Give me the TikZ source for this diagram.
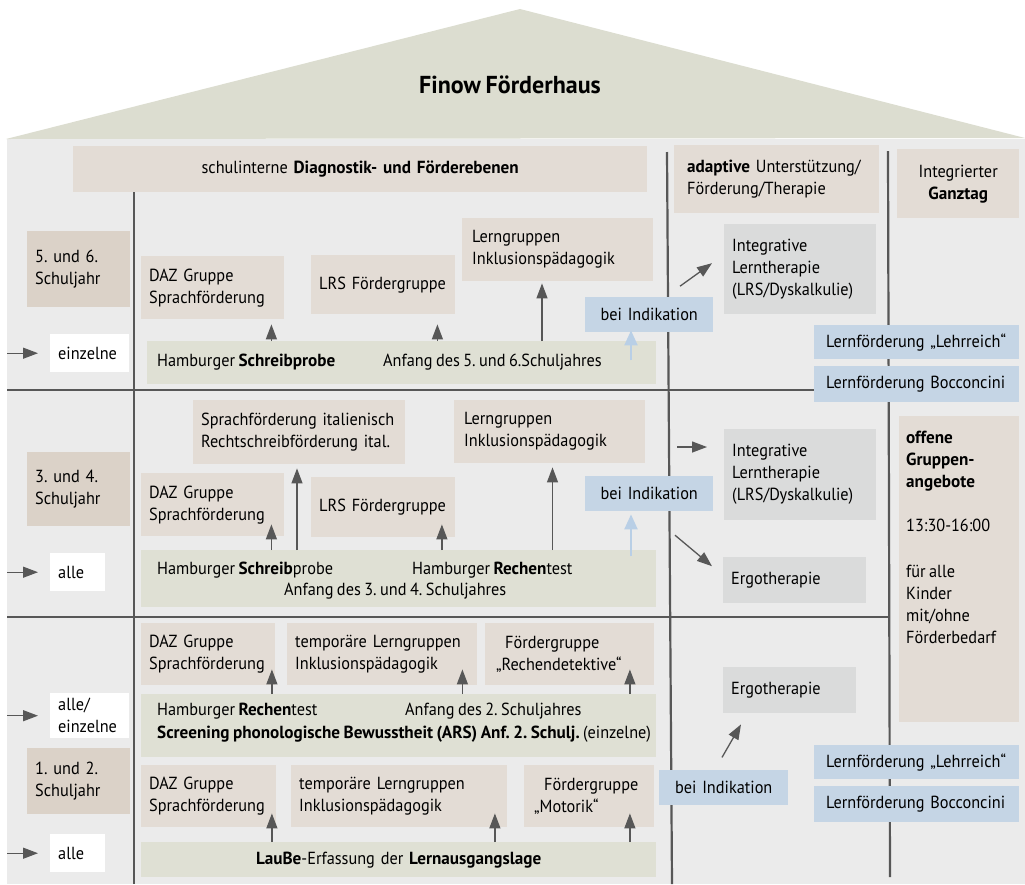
\documentclass[tikz,border=0pt]{standalone}
\usepackage{fontspec}
\setmainfont{PT Sans}[FakeStretch=0.93, WordSpace=0.8, BoldFeatures={FakeStretch=0.98}]
\frenchspacing
\usetikzlibrary{arrows.meta,calc}
\definecolor{roofc}{HTML}{DCDDD0}
\definecolor{bodyc}{HTML}{EBEBEB}
\definecolor{tanc}{HTML}{E3DCD5}
\definecolor{yearc}{HTML}{DBD2C8}
\definecolor{grnc}{HTML}{DFE0D4}
\definecolor{gryc}{HTML}{DADBDB}
\definecolor{bluc}{HTML}{C5D5E5}
\definecolor{linec}{HTML}{575757}
\definecolor{larrc}{HTML}{B9CFE6}
\tikzset{
  base/.style={rectangle, anchor=north west, inner xsep=8pt, inner ysep=0pt, align=left},
  tanbox/.style={base, fill=tanc},
  yearbox/.style={base, fill=yearc},
  grnbox/.style={base, fill=grnc},
  grybox/.style={base, fill=gryc},
  blubox/.style={base, fill=bluc},
  whitebox/.style={base, fill=white},
  sz/.style 2 args={minimum width=#1pt, minimum height=#2pt, text width=#1pt-16pt},
  wh/.style 2 args={minimum width=#1pt, minimum height=#2pt},
  txt/.style={inner sep=0pt, align=left},
  sep/.style={draw=linec, line width=2.2pt},
  arr/.style={draw=linec, line width=1.3pt, -{Triangle[length=15pt,width=11pt]}},
  larr/.style={draw=larrc, line width=2.2pt, -{Triangle[length=15pt,width=13pt]}},
}
\begin{document}
\begin{tikzpicture}[x=1pt, y=-1pt, font=\fontsize{17.5}{22}\selectfont]
\useasboundingbox (0,0) rectangle (1025,884);
% house
\node[fill=bodyc, anchor=north west, minimum width=1018pt, minimum height=745pt, inner sep=0pt] (body) at (7,139) {};
\fill[roofc] (6,139) -- (520,9) -- (1025,138) -- cycle;
\node[font=\bfseries\fontsize{24.5}{28}\selectfont] (title) at (510,85) {Finow Förderhaus};
% separators
\draw[sep] (134,192) -- (134,884);
\draw[sep] (667,152) -- (672,884);
\draw[sep] (888,151) -- (890,877);
\draw[sep] (7,390) -- (888,390);
\draw[sep] (7,617) -- (888,617);
% headers
\node[tanbox, sz={574}{46}, align=center] (hdr) at (73,146) {schulinterne \textbf{Diagnostik- und Förderebenen}};
\node[tanbox, sz={205}{68}] (adp) at (674,145) {\hspace*{5pt}\textbf{adaptive} Unterstützung/\\\hspace*{5pt}Förderung/Therapie};
\node[tanbox, sz={122}{69}, align=center] (gt) at (897,149) {Integrierter\\\textbf{Ganztag}};
% year boxes
\node[yearbox, sz={103}{76}] (y56) at (27,231) {5. und 6.\\Schuljahr};
\node[yearbox, sz={103}{74}] (y34) at (27,452) {3. und 4.\\Schuljahr};
\node[yearbox, sz={103}{66}] (y12) at (27,748) {1. und 2.\\Schuljahr};
% white boxes
\node[whitebox, sz={79}{38}] (w56) at (50,334) {einzelne};
\node[whitebox, sz={55}{38}] (w34) at (50,553) {alle};
\node[whitebox, sz={79}{45}] (w2) at (50,693) {alle/\\einzelne};
\node[whitebox, sz={55}{38}] (w1) at (50,834) {alle};
\foreach \w in {w56,w34,w2,w1}{
  \draw[arr] (body.west |- \w.west) -- ($(\w.west)+(-12,0)$);
}
% ---------- 5./6.
\node[tanbox, sz={143}{63}] (daz56) at (141,256) {DAZ Gruppe\\Sprachförderung};
\node[tanbox, sz={144}{59}] (lrs56) at (311,255) {LRS Fördergruppe};
\node[tanbox, sz={191}{63}] (lg56) at (462,218) {\hspace*{2pt}Lerngruppen\\\hspace*{2pt}Inklusionspädagogik};
\node[grnbox, wh={509}{43}] (bar56) at (147,341) {};
\node[txt, anchor=base west] (t56a) at ($(bar56.north west)+(10,25)$) {Hamburger \textbf{Schreibprobe}};
\node[txt, anchor=base west] (t56b) at ($(bar56.north west)+(236,25)$) {Anfang des 5. und 6.Schuljahres};
\node[blubox, sz={128}{35}, align=center] (bi56) at (585,297) {bei Indikation};
\node[grybox, sz={152}{90}] (il56) at (724,224) {Integrative\\Lerntherapie\\(LRS/Dyskalkulie)};
\node[blubox, sz={205}{34}] (lr56) at (814,325) {\hspace*{4pt}Lernförderung „Lehrreich“};
\node[blubox, sz={205}{36}] (bo56) at (814,366) {\hspace*{4pt}Lernförderung Bocconcini};
\coordinate (a1) at ($(daz56.south east)+(-13,5)$);
\coordinate (a2) at ($(lrs56.south east)+(-18,10)$);
\coordinate (a3) at ($(lg56.south west)+(80,2)$);
\coordinate (a4) at ($(bi56.south west)+(46,-2)$);
\draw[arr] (a1 |- bar56.north) -- (a1);
\draw[arr] (a2 |- bar56.north) -- (a2);
\draw[arr] (a3 |- bar56.north) -- (a3);
\draw[larr] ($(a4)+(0,30)$) -- (a4);
\draw[arr] ($(il56.west)+(-44,17)$) -- ($(il56.west)+(-12,-6)$);
% ---------- 3./4.
\node[tanbox, sz={212}{64}] (it34) at (193,400) {Sprachförderung italienisch\\Rechtschreibförderung ital.};
\node[tanbox, sz={191}{63}] (lg34) at (454,400) {\hspace*{2pt}Lerngruppen\\\hspace*{2pt}Inklusionspädagogik};
\node[tanbox, sz={143}{63}] (daz34) at (141,473) {DAZ Gruppe\\Sprachförderung};
\node[tanbox, sz={144}{60}] (lrs34) at (311,477) {LRS Fördergruppe};
\node[grnbox, wh={515}{57}] (bar34) at (141,550) {};
\node[txt, anchor=base west] (t34a) at ($(bar34.north west)+(16,24)$) {Hamburger \textbf{Schreib}probe};
\node[txt, anchor=base west] (t34b) at ($(bar34.north west)+(271,24)$) {Hamburger \textbf{Rechen}test};
\node[txt, anchor=base west] (t34c) at ($(bar34.north west)+(143,45)$) {Anfang des 3. und 4. Schuljahres};
\node[blubox, sz={128}{35}, align=center] (bi34) at (585,476) {bei Indikation};
\node[grybox, sz={152}{91}] (il34) at (724,429) {Integrative\\Lerntherapie\\(LRS/Dyskalkulie)};
\node[grybox, sz={143}{46}] (ergo34) at (723,557) {Ergotherapie};
\coordinate (b1) at ($(daz34.south east)+(-13,-12)$);
\coordinate (b2) at ($(it34.south west)+(104,4)$);
\coordinate (b3) at ($(lrs34.south east)+(-13.5,-13)$);
\coordinate (b4) at ($(lg34.south west)+(98.5,4)$);
\coordinate (b5) at ($(bi34.south west)+(46,3)$);
\draw[arr] (b1 |- bar34.north) -- (b1);
\draw[arr] (b2 |- bar34.north) -- (b2);
\draw[arr] (b3 |- bar34.north) -- (b3);
\draw[arr] (b4 |- bar34.north) -- (b4);
\draw[larr] ($(b5)+(0,42)$) -- (b5);
\draw[arr] ($(il34.north west)+(-47,18)$) -- ($(il34.north west)+(-17,18)$);
\draw[arr] ($(ergo34.west)+(-48,-45)$) -- ($(ergo34.west)+(-11,-14)$);
% Ganztag column
\node[tanbox, wh={120}{306}] (off) at (899,416) {};
\node[txt, anchor=north west] (offt) at ($(off.north west)+(7,15)$) {\textbf{offene}\\\textbf{Gruppen-}\\\textbf{angebote}\\[22pt]13:30-16:00\\[24pt]für alle\\Kinder\\mit/ohne\\Förderbedarf};
% ---------- 1./2.
\node[tanbox, sz={134}{62}] (daz2) at (141,623) {DAZ Gruppe\\Sprachförderung};
\node[tanbox, sz={190}{62}] (tl2) at (287,623) {temporäre Lerngruppen\\Inklusionspädagogik};
\node[tanbox, sz={169}{62}] (rd2) at (485,623) {\hspace*{12pt}Fördergruppe\\\hspace*{3pt}„Rechendetektive“};
\node[grnbox, wh={515}{63}] (bar2) at (141,694) {};
\node[txt, anchor=base west] (t2a) at ($(bar2.north west)+(16,21)$) {Hamburger \textbf{Rechen}test};
\node[txt, anchor=base west] (t2b) at ($(bar2.north west)+(264,21)$) {Anfang des 2. Schuljahres};
\node[txt, anchor=base west] (t2c) at ($(bar2.north west)+(16,44)$) {\textbf{Screening phonologische Bewusstheit (ARS) Anf. 2. Schulj.} (einzelne)};
\node[tanbox, sz={135}{62}] (daz1) at (141,765) {DAZ Gruppe\\Sprachförderung};
\node[tanbox, sz={216}{62}] (tl1) at (291,765) {temporäre Lerngruppen\\Inklusionspädagogik};
\node[tanbox, sz={130}{62}] (mo1) at (524,765) {\hspace*{12pt}Fördergruppe\\\hspace*{2pt}„Motorik“};
\node[grnbox, sz={515}{35}, align=center] (lau) at (141,842) {\textbf{LauBe}-Erfassung der \textbf{Lernausgangslage}};
\coordinate (c1) at ($(daz2.south east)+(-3.5,-16)$);
\coordinate (c2) at ($(tl2.south east)+(-15,-16)$);
\coordinate (c3) at ($(rd2.south east)+(-24.5,-16)$);
\coordinate (d1) at ($(daz1.south east)+(-4.5,-14)$);
\coordinate (d2) at ($(tl1.south east)+(-12.5,-14)$);
\coordinate (d3) at ($(mo1.south east)+(-24.5,-14)$);
\foreach \p in {c1,c2,c3}{\draw[arr] (\p |- bar2.north) -- (\p);}
\foreach \p in {d1,d2,d3}{\draw[arr] (\p |- lau.north) -- (\p);}
\node[blubox, sz={129}{35}, align=center] (bi1) at (659,770) {bei Indikation};
\node[grybox, sz={133}{46}] (ergo2) at (723,667) {Ergotherapie};
\draw[arr] ($(ergo2.south west)+(-1,44)$) -- ($(ergo2.south west)+(18,11)$);
\node[blubox, sz={205}{34}] (lr1) at (814,745) {\hspace*{4pt}Lernförderung „Lehrreich“};
\node[blubox, sz={205}{36}] (bo1) at (814,786) {\hspace*{4pt}Lernförderung Bocconcini};
\end{tikzpicture}
\end{document}
